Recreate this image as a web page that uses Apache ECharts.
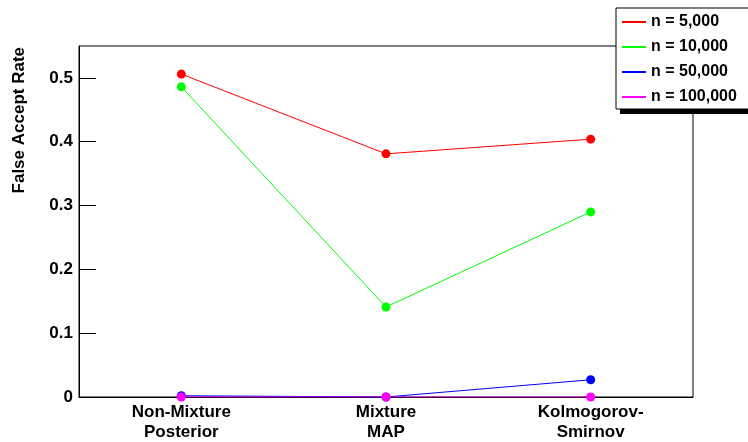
<!DOCTYPE html>
<html>
<head>
<meta charset="utf-8">
<script src="https://cdn.jsdelivr.net/npm/echarts@6/dist/echarts.min.js"></script>
<style>
html,body{margin:0;padding:0;background:#fff;}
#chart{width:748px;height:442px;}
</style>
</head>
<body>
<div id="chart"></div>
<script>
const categories=['Non-Mixture\nPosterior','Mixture\nMAP','Kolmogorov-\nSmirnov'];
const seriesNames=['n = 5,000','n = 10,000','n = 50,000','n = 100,000'];
const n5000=[0.506,0.381,0.404];
const n10000=[0.486,0.141,0.290];
const n50000=[0.002,0.0,0.027];
const n100000=[0.0,0.0,0.0];
const colors=['#ff0000','#00ff00','#0000ff','#ff00ff'];
const fontFam='"Liberation Sans", Arial, sans-serif';

var myChart=echarts.init(document.getElementById('chart'));
const allData=[n5000,n10000,n50000,n100000];
const series=allData.map((d,i)=>({
    name:seriesNames[i],
    type:'line',
    data:d,
    symbol:'circle',
    symbolSize:9,
    lineStyle:{width:1,color:colors[i]},
    itemStyle:{color:colors[i]},
    z:3+i
}));

var option={
    animation:false,
    backgroundColor:'#fff',
    textStyle:{fontFamily:fontFam},
    grid:{
        left:79,
        right:55,
        top:46,
        bottom:45,
        show:true,
        borderColor:'#000',
        borderWidth:1
    },
    legend:{
        orient:'vertical',
        left:616,
        top:8,
        z:10,
        padding:[6,40,4,6],
        itemGap:9,
        itemWidth:24,
        itemHeight:2,
        icon:'rect',
        backgroundColor:'#fff',
        borderColor:'#000',
        borderWidth:1,
        textStyle:{fontSize:16,fontWeight:'bold',color:'#000',fontFamily:fontFam},
        data:seriesNames
    },
    xAxis:{
        type:'category',
        data:categories,
        boundaryGap:true,
        axisLine:{lineStyle:{color:'#000',width:1}},
        axisTick:{inside:true,alignWithLabel:true,length:11,lineStyle:{color:'#000'}},
        axisLabel:{
            fontSize:17,
            fontWeight:'bold',
            color:'#000',
            lineHeight:20,
            margin:5,
            fontFamily:fontFam
        },
        splitLine:{show:false}
    },
    yAxis:{
        type:'value',
        min:0,
        max:0.55,
        interval:0.1,
        axisLine:{show:true,lineStyle:{color:'#000',width:1}},
        axisTick:{show:true,inside:true,length:17,lineStyle:{color:'#000'}},
        axisLabel:{
            fontSize:17,
            fontWeight:'bold',
            color:'#000',
            margin:6,
            showMaxLabel:false,
            fontFamily:fontFam,
            formatter:v=>v===0?'0':v.toFixed(1)
        },
        splitLine:{show:false}
    },
    graphic:[{
        type:'text',
        left:11,
        top:47,
        rotation:Math.PI/2,
        style:{
            text:'False Accept Rate',
            fontSize:17,
            fontWeight:'bold',
            fill:'#000',
            fontFamily:fontFam
        }
    },{
        // ROOT-style legend shadow
        type:'rect',
        left:620,
        top:13,
        z:1,
        shape:{width:140,height:101},
        style:{fill:'#000'}
    }],
    series:series
};
myChart.setOption(option);
</script>
</body>
</html>
